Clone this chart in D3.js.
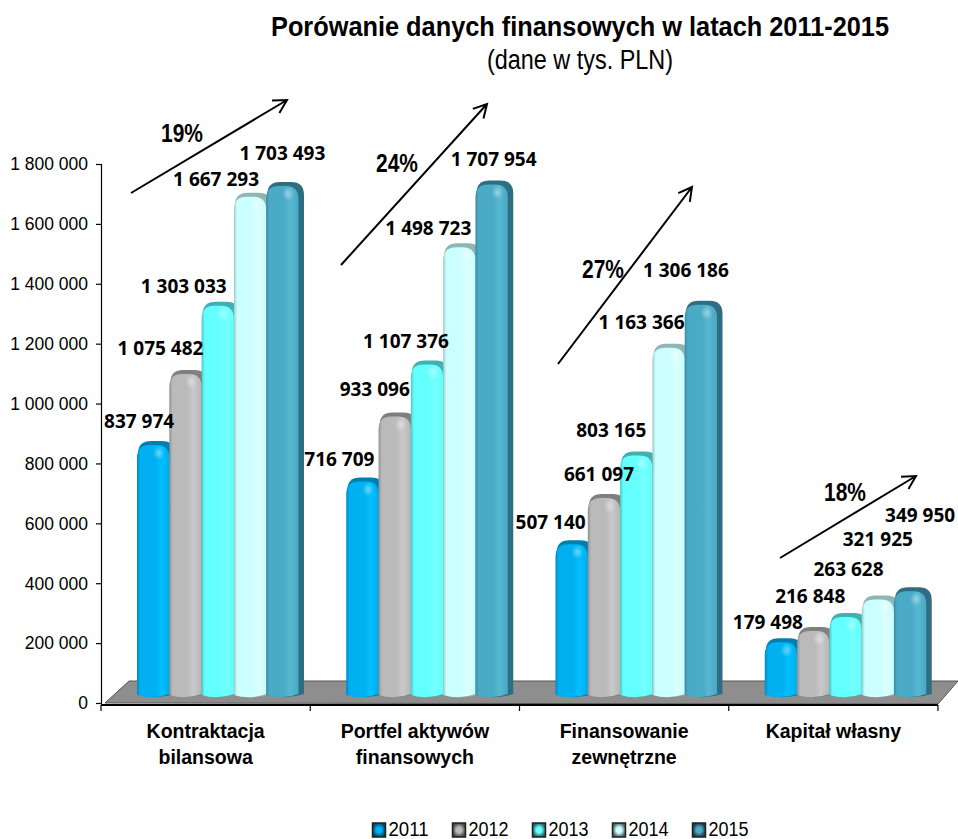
<!DOCTYPE html>
<html><head><meta charset="utf-8">
<script src="https://cdnjs.cloudflare.com/ajax/libs/d3/7.8.5/d3.min.js"></script>
<style>html,body{margin:0;background:#fff}svg{display:block}text{font-family:"Liberation Sans",sans-serif;fill:#000}</style>
</head><body><svg id="c" width="958" height="839"></svg>
<script>
const categories = [["Kontraktacja","bilansowa"],["Portfel aktywów","finansowych"],["Finansowanie","zewnętrzne"],["Kapitał własny"]];
const years = ["2011","2012","2013","2014","2015"];
const v2011 = [837974,716709,507140,179498];
const v2012 = [1075482,933096,661097,216848];
const v2013 = [1303033,1107376,803165,263628];
const v2014 = [1667293,1498723,1163366,321925];
const v2015 = [1703493,1707954,1306186,349950];
const seriesValues = [v2011,v2012,v2013,v2014,v2015];
const growth = ["19%","24%","27%","18%"];
const yTicks = [0,200000,400000,600000,800000,1000000,1200000,1400000,1600000,1800000];

// colours per year: edge, main, light, side, cap
const palette = [
 ["#0088c0","#00b0f0","#00bfff","#0080b0","#0093c8"],
 ["#8f8f8f","#bababa","#c8c8c8","#7f7f7f","#969696"],
 ["#48c8c8","#66ffff","#74ffff","#40b0b0","#52cccc"],
 ["#9cc8c8","#ccffff","#dcffff","#8fb5b5","#a6cfcf"],
 ["#3a8aa4","#4babc6","#58b8d2","#2f6d82","#3c8aa2"]
];
// layout: label centre offsets from bar-top centre, per category and year
const labelOffsets = [
 [[-14,-20],[-25,-22],[-34,-15],[-34,-13],[0,-29]],
 [[-23,-18],[-20,-23],[-21,-19],[-31,-15],[2,-21]],
 [[-21,-18],[-5,-20],[-25,-21],[-27,-21],[-15,-31]],
 [[-13,-16],[-3,-31],[3,-44],[0,-56],[10,-72]]
];
const arrowPaths = [[131,193,287,100],[341,265,487,104],[558,364,692,187],[780,558,916,476]];
const growthPos = [[182,133],[397,163],[603,269],[845,492]];

const svg = d3.select("#c");
const y = d3.scaleLinear().domain([0,1800000]).range([703,164]);
const x0 = d3.scaleBand().domain(categories.map((_,i)=>i)).range([101,938]);
const x1 = d3.scaleBand().domain(years).range([36,36+161.5]);
const liftTop = 11, baseY = 697, sideW = 5.5, barW = x1.bandwidth()+sideW;
const defs = svg.append("defs");

palette.forEach((p,i)=>{
  const g = defs.append("linearGradient").attr("id","front"+i);
  [[0,p[0]],[.1,p[1]],[.55,p[1]],[.75,p[2]],[.95,p[1]],[1,p[1]]]
    .forEach(s=>g.append("stop").attr("offset",s[0]).attr("stop-color",s[1]));
  const l = defs.append("radialGradient").attr("id","leg"+i);
  l.append("stop").attr("offset","40%").attr("stop-color",p[1]);
  l.append("stop").attr("offset","100%").attr("stop-color",d3.color(p[3]).darker(1.6));
});
const hl = defs.append("radialGradient").attr("id","hl");
hl.append("stop").attr("offset",0).attr("stop-color","#fff").attr("stop-opacity",.4);
hl.append("stop").attr("offset",1).attr("stop-color","#fff").attr("stop-opacity",0);

// floor
svg.append("polygon")
  .attr("points",[[105,y(0)],[129,681],[958,681],[938,y(0)+1]].join(" "))
  .attr("fill","#8e8e8e").attr("stroke","#555").attr("stroke-width",1);

// y axis
const yAxis = d3.axisLeft(y).tickValues(yTicks).tickSize(5).tickPadding(8)
  .tickFormat(d=>d3.format(",")(d).replace(/,/g," "));
const ya = svg.append("g").attr("transform","translate(101,0)").call(yAxis);
ya.selectAll("path,line").attr("stroke","#000").attr("stroke-width",1.2);
ya.selectAll("text").attr("font-size",17.5).attr("dy","0.33em");

// x axis
const xa = svg.append("g").attr("transform","translate(0,705)");
xa.append("line").attr("x1",101).attr("x2",938).attr("stroke","#000").attr("stroke-width",2);
d3.range(5).forEach(i=>{
  const px = i<4 ? x0(i) : x0(3)+x0.bandwidth();
  xa.append("line").attr("x1",px).attr("x2",px).attr("y1",0).attr("y2",6).attr("stroke","#000").attr("stroke-width",1.2);
});
categories.forEach((lines,i)=>{
  lines.forEach((t,j)=>{
    svg.append("text").attr("x",x0(i)+x0.bandwidth()/2).attr("y",738+j*26)
      .attr("text-anchor","middle").attr("font-size",19.5).attr("font-weight","bold").text(t);
  });
});

function barPath(x,w,t,b,r){
  return `M${x},${b-2}L${x},${t+r}Q${x},${t} ${x+r},${t}L${x+w-r},${t}Q${x+w},${t} ${x+w},${t+r}L${x+w},${b-3}Q${x+w/2},${b+3} ${x},${b-2}Z`;
}
// bars
categories.forEach((_,c)=>{
  years.forEach((yr,s)=>{
    const v = seriesValues[s][c], X = x0(c)+x1(yr), T = y(v)-liftTop;
    const g = svg.append("g");
    g.append("path").attr("d",barPath(X+1,barW-1,T,baseY,13)).attr("fill",palette[s][3]);
    g.append("path").attr("d",barPath(X,barW-sideW,T+4,baseY,13)).attr("fill",`url(#front${s})`);
    g.append("ellipse").attr("cx",X+barW-16).attr("cy",T+12).attr("rx",6).attr("ry",7).attr("fill","url(#hl)");
  });
});

// value labels
categories.forEach((_,c)=>{
  years.forEach((yr,s)=>{
    const v = seriesValues[s][c], cx = x0(c)+x1(yr)+x1.bandwidth()/2, T = y(v)-liftTop, o = labelOffsets[c][s];
    svg.append("text").attr("x",cx+o[0]).attr("y",T+o[1]).attr("dy","0.35em")
      .attr("text-anchor","middle").attr("font-size",19).attr("font-weight","bold")
      .style("font-family","'Open Sans',sans-serif")
      .text(d3.format(",")(v).replace(/,/g," "));
  });
});

// arrows
arrowPaths.forEach(a=>{
  const ang = Math.atan2(a[3]-a[1],a[2]-a[0]), L = 15;
  const h = d=>[a[2]-L*Math.cos(ang+d),a[3]-L*Math.sin(ang+d)];
  svg.append("path").attr("fill","none").attr("stroke","#000").attr("stroke-width",2)
    .attr("d",`M${a[0]},${a[1]}L${a[2]},${a[3]}M${h(.5)}L${a[2]},${a[3]}L${h(-.5)}`);
});
growth.forEach((t,i)=>{
  svg.append("text").attr("x",growthPos[i][0]-21).attr("y",growthPos[i][1]).attr("dy","0.35em")
    .attr("font-size",25).attr("textLength",42).attr("lengthAdjust","spacingAndGlyphs")
    .attr("font-weight","bold").text(t);
});

// title
svg.append("text").attr("x",271).attr("y",36).attr("font-size",28).attr("font-weight","bold")
  .attr("textLength",618).attr("lengthAdjust","spacingAndGlyphs").text("Porówanie danych finansowych w latach 2011-2015");
svg.append("text").attr("x",487).attr("y",69).attr("font-size",27)
  .attr("textLength",186).attr("lengthAdjust","spacingAndGlyphs").text("(dane w tys. PLN)");

// legend
const legendX = d3.scalePoint().domain(years).range([372.5,692.5]);
years.forEach((yr,i)=>{
  const lx = legendX(yr);
  svg.append("rect").attr("x",lx).attr("y",823).attr("width",13).attr("height",14).attr("fill",`url(#leg${i})`).attr("stroke","#222").attr("stroke-width",1.5);
  svg.append("text").attr("x",lx+16).attr("y",836).attr("font-size",19.5)
    .attr("textLength",40).attr("lengthAdjust","spacingAndGlyphs").text(yr);
});
</script></body></html>
